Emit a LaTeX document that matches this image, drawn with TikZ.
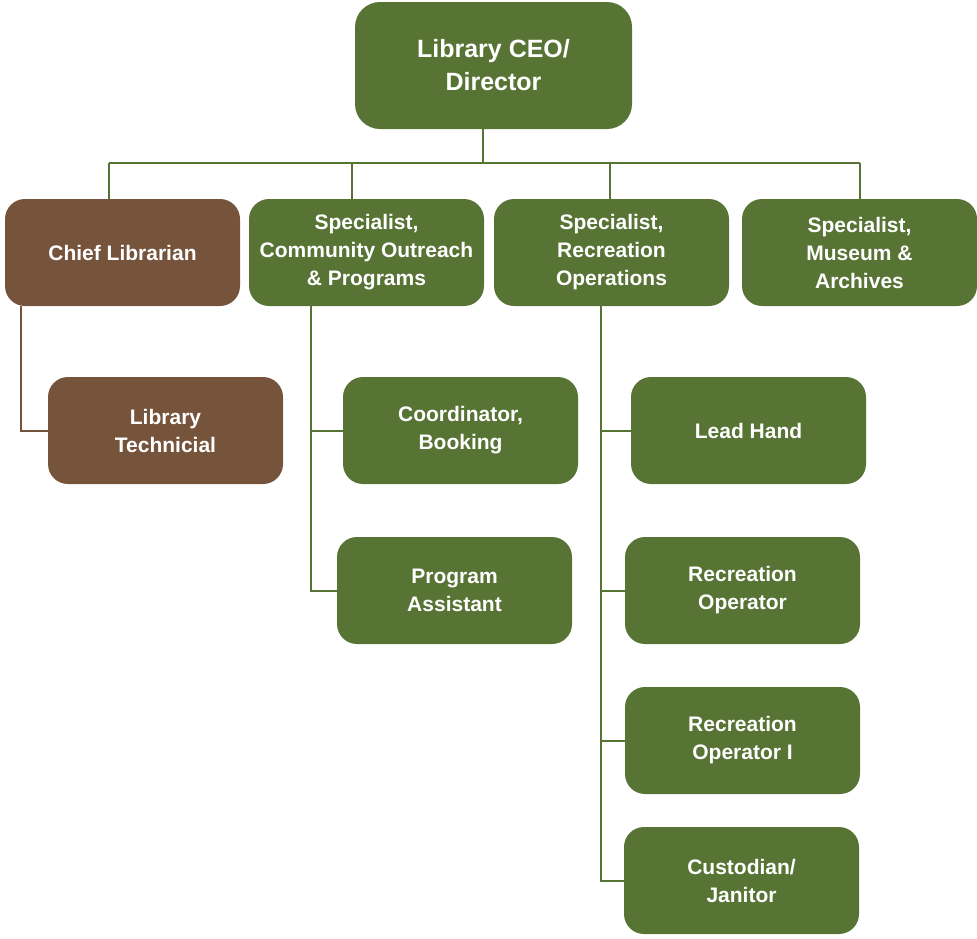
\documentclass[tikz,border=0pt]{standalone}
\usepackage{fontspec}
\setmainfont{Liberation Sans}
\definecolor{ogreen}{HTML}{587435}
\definecolor{obrown}{HTML}{76543C}
\begin{document}
\begin{tikzpicture}[x=1pt,y=-1pt,
  box/.style={draw=none, fill=ogreen, rounded corners=20pt, minimum width=235pt, minimum height=107pt,
    inner sep=0pt, text=white, align=center, font=\bfseries\fontsize{21}{28}\selectfont},
  bbox/.style={box, fill=obrown},
  gline/.style={draw=ogreen, line width=2pt},
  bline/.style={draw=obrown, line width=2pt}]
\useasboundingbox (0,0) rectangle (977,938);
\node[box, minimum width=277pt, minimum height=127pt, rounded corners=25pt,
  font=\bfseries\fontsize{25}{33}\selectfont] (ceo) at (493.5,65.5) {Library CEO/\\Director};
\node[bbox] (chief) at (122.5,252.5) {Chief Librarian};
\node[box] (comm) at (366.5,252.5) {Specialist,\\Community Outreach\\\& Programs};
\node[box] (rec) at (611.5,252.5) {Specialist,\\Recreation\\Operations};
\node[box] (mus) at (859.5,252.5) {Specialist,\\Museum \&\\Archives};
\node[bbox] (tech) at (165.5,430.5) {Library\\Technicial};
\node[box] (coord) at (460.5,430.5) {Coordinator,\\Booking};
\node[box] (prog) at (454.5,590.5) {Program\\Assistant};
\node[box] (lead) at (748.5,430.5) {Lead Hand};
\node[box] (recop) at (742.5,590.5) {Recreation\\Operator};
\node[box] (recop1) at (742.5,740.5) {Recreation\\Operator I};
\node[box] (cust) at (741.5,880.5) {Custodian/\\Janitor};
% connector points
\coordinate (h) at (483,163);
\coordinate (hl) at (109,163);
\coordinate (hr) at (860,163);
\coordinate (hc) at (352,163);
\coordinate (hrec) at (610,163);
\coordinate (bt) at (21,306);
\coordinate (ct) at (311,306);
\coordinate (rt) at (601,306);
\draw[gline] (ceo.south -| h) -- (h);
\draw[gline] (hl) -- (hr);
\draw[gline] (hl) -- (hl |- chief.north);
\draw[gline] (hc) -- (hc |- comm.north);
\draw[gline] (hrec) -- (hrec |- rec.north);
\draw[gline] (hr) -- (hr |- mus.north);
\draw[bline] (bt) |- (tech.west);
\draw[gline] (ct) |- (prog.west);
\draw[gline] (ct |- coord.west) -- (coord.west);
\draw[gline] (rt) |- (cust.west);
\draw[gline] (rt |- lead.west) -- (lead.west);
\draw[gline] (rt |- recop.west) -- (recop.west);
\draw[gline] (rt |- recop1.west) -- (recop1.west);
\end{tikzpicture}
\end{document}
